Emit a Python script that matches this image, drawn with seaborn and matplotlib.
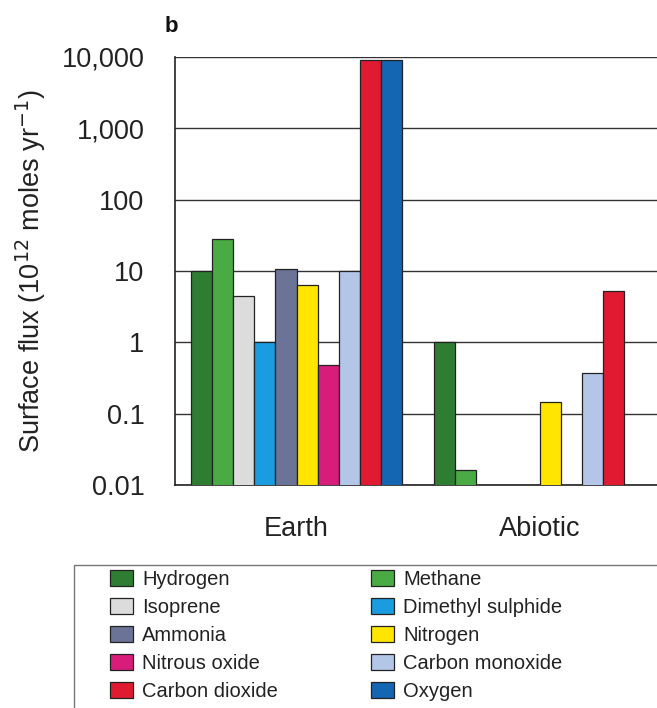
import matplotlib
matplotlib.use("Agg")
import matplotlib.pyplot as plt
from matplotlib.patches import Rectangle
from matplotlib.ticker import FixedLocator, NullLocator
import numpy as np
import pandas as pd
import seaborn as sns

# data (NaN = no bar)
groups = ["Earth", "Abiotic"]
gases = ["Hydrogen", "Methane", "Isoprene", "Dimethyl sulphide", "Ammonia",
         "Nitrogen", "Nitrous oxide", "Carbon monoxide", "Carbon dioxide", "Oxygen"]
earth = [10, 28, 4.4, 1.0, 10.8, 6.4, 0.48, 10, 9000, 9000]
abiotic = [1.0, 0.016, np.nan, np.nan, np.nan, 0.145, np.nan, 0.37, 5.2, np.nan]
colors = ["#2f7d33", "#4aab45", "#dcdcdc", "#1b9be0", "#6b7396",
          "#ffe500", "#d81c79", "#b3c6e8", "#e01a30", "#1566b2"]
ytick_vals = [0.01, 0.1, 1, 10, 100, 1000, 10000]
ytick_labels = ["0.01", "0.1", "1", "10", "100", "1,000", "10,000"]

df = pd.DataFrame({
    "group": np.repeat(groups, len(gases)),
    "gas": gases * 2,
    "flux": earth + abiotic,
})

sns.set_style("white")
plt.rcParams["font.family"] = ["Liberation Sans", "DejaVu Sans"]

fig = plt.figure(figsize=(6.57, 7.08), dpi=100)
ax = fig.add_axes([175 / 657, 1 - 485 / 708, 486 / 657, 428 / 708])
ax.set_yscale("log")

sns.barplot(data=df, x="group", y="flux", hue="gas", order=groups, hue_order=gases,
            palette=colors, saturation=1, width=0.87, edgecolor="#222222", linewidth=0.9,
            errorbar=None, ax=ax, legend=True, zorder=3)

# Decorations
ax.set_ylim(0.01, 10000)
ax.set_xlim(-0.5, 1.5)
ax.yaxis.set_major_locator(FixedLocator(ytick_vals))
ax.yaxis.set_minor_locator(NullLocator())
ax.set_yticklabels(ytick_labels, fontsize=19.5, color="#222222")
ax.grid(axis="y", color="#333333", linewidth=1.0, zorder=0)
ax.set_axisbelow(True)

ax.set_xticks([-0.5, 0.5, 1.5], labels=["", "", ""])
ax.set_xticks([0, 1], labels=groups, minor=True)
ax.tick_params(axis="x", which="minor", length=0, pad=22, labelsize=19.5, labelcolor="#222222")
ax.tick_params(axis="x", which="major", length=8, direction="out", color="#666666", width=1.2)
ax.tick_params(axis="y", length=10, direction="out", color="#333333", width=1.0, pad=12)
ax.set_xlabel("")
ax.set_ylabel("Surface flux (10$^{12}$ moles yr$^{-1}$)", fontsize=19.5, color="#222222", labelpad=10)

for side in ["top", "right"]:
    ax.spines[side].set_visible(False)
for side in ["left", "bottom"]:
    ax.spines[side].set_color("#222222")
    ax.spines[side].set_linewidth(1.2)

fig.text(165 / 657, 1 - 27 / 708, "b", fontsize=16, fontweight="bold", va="center", color="#111111")

# legend: two columns filled row by row
handles, labels = ax.get_legend_handles_labels()
ax.legend_.remove()
order = list(range(0, len(gases), 2)) + list(range(1, len(gases), 2))
leg = fig.legend([handles[i] for i in order], [labels[i] for i in order], ncol=2,
                 loc="upper left", bbox_to_anchor=(110 / 657, 1 - 570 / 708),
                 fontsize=14.5, frameon=False,
                 handlelength=1.15, handleheight=0.85, handletextpad=0.45,
                 columnspacing=4.6, labelspacing=0.45, borderpad=0, borderaxespad=0)
for t in leg.get_texts():
    t.set_color("#222222")
fig.patches.append(Rectangle((74 / 657, -0.05), 1.0, 1 - 565 / 708 + 0.05,
                             transform=fig.transFigure, fill=False,
                             edgecolor="#777777", linewidth=1.0))

plt.savefig("out.png", dpi=100)
